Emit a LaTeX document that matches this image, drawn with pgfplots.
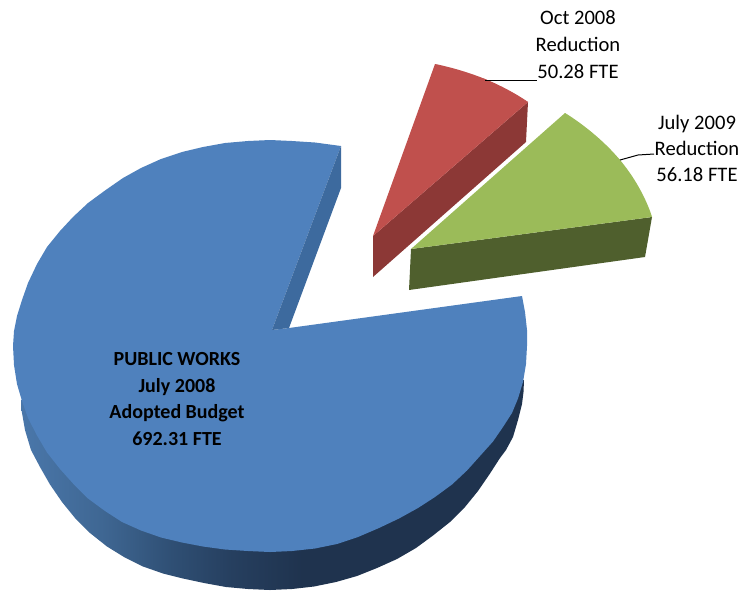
\documentclass[border=0pt]{standalone}
\usepackage{fontspec}
\setmainfont{Carlito}
\usepackage{pgfplots}
\pgfplotsset{compat=1.18}

\definecolor{bluetop}{HTML}{4F81BD}
\definecolor{bluecut}{HTML}{3D6A9E}
\definecolor{redtop}{HTML}{C0504D}
\definecolor{redwall}{HTML}{8C3836}
\definecolor{greentop}{HTML}{9BBB59}
\definecolor{greenwall}{HTML}{4F5F2D}
\definecolor{wa}{HTML}{4A77AA}
\definecolor{wb}{HTML}{3F6793}
\definecolor{wc}{HTML}{2F4F74}
\definecolor{wd}{HTML}{263F5F}
\definecolor{we}{HTML}{1F334E}
% stops: the path's box covers 25bp to 75bp of the shading
\pgfdeclarehorizontalshading{wall}{100bp}{color(0bp)=(wa); color(25bp)=(wa); color(33bp)=(wb); color(40bp)=(wc); color(46bp)=(wd); color(53bp)=(we); color(100bp)=(we)}

\begin{document}
\begin{tikzpicture}
  \begin{axis}[
    hide axis,
    scale only axis,
    width=741pt,
    height=590pt,
    xmin=0, xmax=741,
    ymin=0, ymax=590,
    y dir=reverse,
  ]
  % outer wall of the big slice
  \addplot[draw=none, shade, shading=wall] coordinates {
    (524,380) (523.5,392) (522,404) (518,420) (513,437) (506,450) (500,458)
    (490,473.5) (478,491) (465,507) (450,522) (433,535.5) (416,548) (397,559)
    (377,568) (357,576) (336,582) (314,586.5) (292,589) (270,590) (248,589)
    (226,587) (204,583) (183,578.5) (163,573.5) (143,566.5) (124,557) (107,546.5)
    (90,533) (75,518) (62,502) (50,484.5) (40,467) (31,450) (25,430) (21.5,410)
    (21,400)
  } -- cycle;

  % top of the big slice
  \addplot[draw=none, fill=bluetop] coordinates {
    (272,330) (289,328) (522,296) (525,312) (527,330) (527,346) (526,364)
    (523,382) (518,398.5) (512,413) (503,427) (493,441.5) (480,456) (467,470.5)
    (452,484.5) (435,497) (418,508) (399,518.5) (379,528) (358,537) (337,544)
    (315,548.5) (292,551) (270,552) (248,551) (225,549.5) (203,546.5) (182,542.5)
    (161,537.5) (141,530.5) (122,522) (105,511) (88,498.5) (73,483.5) (60,469)
    (47,452.5) (37,435.5) (28,418) (22,401) (17,384) (14,365) (13,346) (14,331)
    (17,316) (22,300) (28,283) (37,264) (47,247) (60,231) (73,217) (88,203)
    (105,190.5) (123,178) (141,168) (161,159) (182,152) (203,147) (225,143)
    (248,141) (270,140) (292,141) (315,142.5) (341,146)
  } -- cycle;

  % cut face of the big slice
  \addplot[draw=none, fill=bluecut] coordinates {
    (341,146) (341,188) (289,328) (272,330)
  } -- cycle;

  % red slice
  \addplot[draw=none, fill=redwall] coordinates {
    (528,102) (526,142) (373,277) (373,236)
  } -- cycle;
  \addplot[draw=none, fill=redtop] coordinates {
    (373,236) (435,64) (485,79) (528,102)
  } -- cycle;
  \addplot[draw=none, fill=redtop, smooth, tension=1] coordinates {
    (435,64) (485,79) (528,102)
  } -- cycle;

  % green slice
  \addplot[draw=none, fill=greenwall] coordinates {
    (652,217) (645,257) (409,290) (411,249)
  } -- cycle;
  \addplot[draw=none, fill=greentop] coordinates {
    (411,249) (565,113) (620,160) (652,217)
  } -- cycle;
  \addplot[draw=none, fill=greentop, smooth, tension=1] coordinates {
    (565,113) (620,160) (652,217)
  } -- cycle;

  % leader lines
  \addplot[black, line width=1pt] coordinates {(485,80) (537,80)};
  \addplot[black, line width=1pt] coordinates {(620,160) (638,155) (654,154)};

  % labels
  \node[align=center, font=\fontsize{20.6}{27}\selectfont] at (axis cs:578,45)
    {Oct 2008\\Reduction\\50.28 FTE};
  \node[align=center, font=\fontsize{20.6}{26}\selectfont] at (axis cs:697,148)
    {July 2009\\Reduction\\56.18 FTE};
  \node[align=center, font=\fontsize{20}{26.6}\selectfont\bfseries] at (axis cs:177,399)
    {PUBLIC WORKS\\July 2008\\Adopted Budget\\692.31 FTE};
  \end{axis}
  % keep the page as large as the axis
  \path[use as bounding box] (0,0) rectangle (741pt,590pt);
\end{tikzpicture}
\end{document}
